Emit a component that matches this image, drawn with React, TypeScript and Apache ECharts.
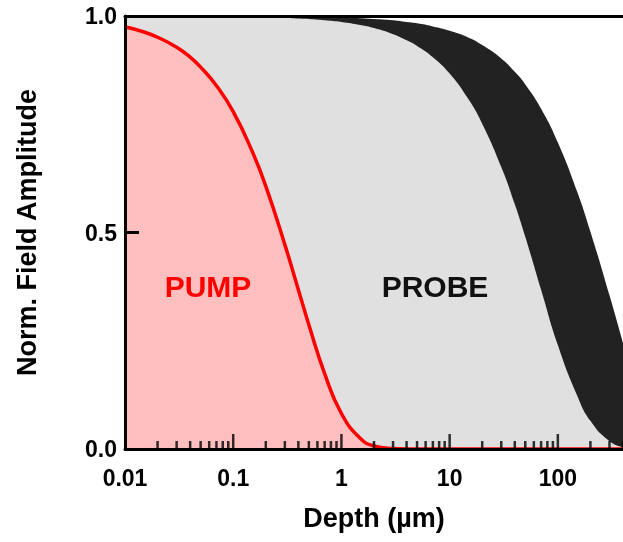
import React, { useEffect, useRef } from "react";
import * as echarts from "echarts";

const depth = [0.01, 0.015, 0.02, 0.03, 0.04, 0.05, 0.07, 0.1, 0.15, 0.2, 0.3, 0.4, 0.5, 0.7, 1, 1.5, 2, 3, 4, 5, 7, 10, 15, 20, 30, 40, 50, 70, 100, 150, 200, 300, 400];
// Pump field amplitude (red)
const pump = [0.975, 0.963, 0.951, 0.928, 0.905, 0.882, 0.839, 0.779, 0.687, 0.607, 0.472, 0.368, 0.287, 0.174, 0.082, 0.024, 0.007, 0.001, 0, 0, 0, 0, 0, 0, 0, 0, 0, 0, 0, 0, 0, 0, 0];
// Probe: inner edge of the dark band (light grey fill below)
const probeInner = [1.0, 1.0, 1.0, 1.0, 0.999, 0.999, 0.999, 0.999, 0.998, 0.997, 0.996, 0.994, 0.993, 0.99, 0.986, 0.979, 0.972, 0.958, 0.944, 0.931, 0.905, 0.867, 0.807, 0.751, 0.651, 0.565, 0.49, 0.368, 0.24, 0.125, 0.065, 0.018, 0.004];
// Probe: outer edge of the dark band
const probeOuter = [1.0, 1.0, 1.0, 1.0, 1.0, 1.0, 1.0, 1.0, 1.0, 1.0, 0.999, 0.999, 0.998, 0.998, 0.997, 0.995, 0.993, 0.99, 0.986, 0.983, 0.976, 0.966, 0.95, 0.933, 0.902, 0.871, 0.842, 0.786, 0.708, 0.596, 0.502, 0.355, 0.245];

// Axis ticks
const xMajorTicks = [0.1, 1, 10, 100];
const xMinorTicks = [0.02, 0.03, 0.04, 0.05, 0.06, 0.07, 0.08, 0.09, 0.2, 0.3, 0.4, 0.5, 0.6, 0.7, 0.8, 0.9, 2, 3, 4, 5, 6, 7, 8, 9, 20, 30, 40, 50, 60, 70, 80, 90, 200, 300, 400];
const xTickValues = [0.01, 0.1, 1, 10, 100];
const xTickLabels = ["0.01", "0.1", "1", "10", "100"];
const yTickLabels = ["0.0", "0.5", "1.0"];

const FONT = "'Liberation Sans', Arial, Helvetica, sans-serif";

export default function App() {
  const ref = useRef<HTMLDivElement>(null);
  useEffect(() => {
    if (!ref.current) return;
    const chart = echarts.init(ref.current, undefined, { renderer: "svg" });
    const pts = (ys: number[]) => depth.map((d, i) => [d, ys[i]]);
    const xLabel = (v: number) => {
      for (let i = 0; i < xTickValues.length; i++) {
        if (Math.abs(Math.log10(v) - Math.log10(xTickValues[i])) < 1e-6) return xTickLabels[i];
      }
      return "";
    };
    chart.setOption({
      animation: false,
      textStyle: { fontFamily: FONT },
      grid: { left: 125, right: 0, top: 16, bottom: 93, containLabel: false },
      xAxis: [
        {
          type: "log",
          logBase: 10,
          min: 0.01,
          max: 400,
          z: 10,
          name: "Depth (µm)",
          nameLocation: "middle",
          nameGap: 55,
          nameTextStyle: { fontSize: 27, fontWeight: "bold", color: "#000", fontFamily: FONT },
          axisLine: { show: true, lineStyle: { color: "#000", width: 3 } },
          axisTick: { show: false },
          splitLine: { show: false },
          minorTick: { show: false },
          axisLabel: {
            formatter: xLabel,
            fontSize: 23,
            fontWeight: "bold",
            color: "#000",
            margin: 17,
            showMaxLabel: false,
            fontFamily: FONT,
          },
        },
        {
          type: "log",
          logBase: 10,
          min: 0.01,
          max: 400,
          position: "top",
          z: 10,
          axisLine: { show: true, lineStyle: { color: "#000", width: 3 } },
          axisTick: { show: false },
          axisLabel: { show: false },
          splitLine: { show: false },
        },
      ],
      yAxis: {
        type: "value",
        min: 0,
        max: 1,
        interval: 0.5,
        z: 10,
        name: "Norm. Field Amplitude",
        nameLocation: "middle",
        nameGap: 85,
        nameTextStyle: { fontSize: 27, fontWeight: "bold", color: "#000", fontFamily: FONT },
        axisLine: { show: true, lineStyle: { color: "#000", width: 3 } },
        axisTick: { show: true, inside: true, length: 14, lineStyle: { color: "#000", width: 3 } },
        splitLine: { show: false },
        axisLabel: {
          formatter: (v: number) => yTickLabels[Math.round(v * 2)],
          fontSize: 23,
          fontWeight: "bold",
          color: "#000",
          margin: 8,
          fontFamily: FONT,
        },
      },
      series: [
        {
          type: "line",
          data: pts(probeOuter),
          smooth: 0.5,
          showSymbol: false,
          symbol: "none",
          lineStyle: { width: 0, color: "#222" },
          areaStyle: { color: "#222222", opacity: 1 },
          z: 2,
          silent: true,
        },
        {
          type: "line",
          data: pts(probeInner),
          smooth: 0.5,
          showSymbol: false,
          symbol: "none",
          lineStyle: { width: 0, color: "#e0e0e0" },
          areaStyle: { color: "#e0e0e0", opacity: 1 },
          z: 3,
          silent: true,
        },
        {
          type: "line",
          data: pts(pump),
          smooth: 0.5,
          showSymbol: false,
          symbol: "none",
          lineStyle: { width: 3.5, color: "#ff0000" },
          areaStyle: { color: "#ffbfbf", opacity: 1 },
          z: 4,
          silent: true,
        },
        {
          type: "scatter",
          data: xMinorTicks.map((v) => [v, 0]),
          symbol: "rect",
          symbolSize: [2.5, 8],
          symbolOffset: [0, -4],
          itemStyle: { color: "#000" },
          clip: false,
          z: 12,
          silent: true,
        },
        {
          type: "scatter",
          data: xMajorTicks.map((v) => [v, 0]),
          symbol: "rect",
          symbolSize: [2.5, 15],
          symbolOffset: [0, -7.5],
          itemStyle: { color: "#000" },
          clip: false,
          z: 12,
          silent: true,
        },
      ],
      graphic: [
        {
          type: "text",
          x: 208,
          y: 286,
          z: 20,
          style: {
            text: "PUMP",
            fill: "#ff0000",
            font: `bold 30px ${FONT}`,
            align: "center",
            verticalAlign: "middle",
          },
        },
        {
          type: "text",
          x: 435,
          y: 286,
          z: 20,
          style: {
            text: "PROBE",
            fill: "#111111",
            font: `bold 30px ${FONT}`,
            align: "center",
            verticalAlign: "middle",
          },
        },
      ],
    });
    return () => chart.dispose();
  }, []);
  return (
    <div
      ref={ref}
      style={{ position: "fixed", left: 0, top: 0, width: 623, height: 542 }}
    />
  );
}
